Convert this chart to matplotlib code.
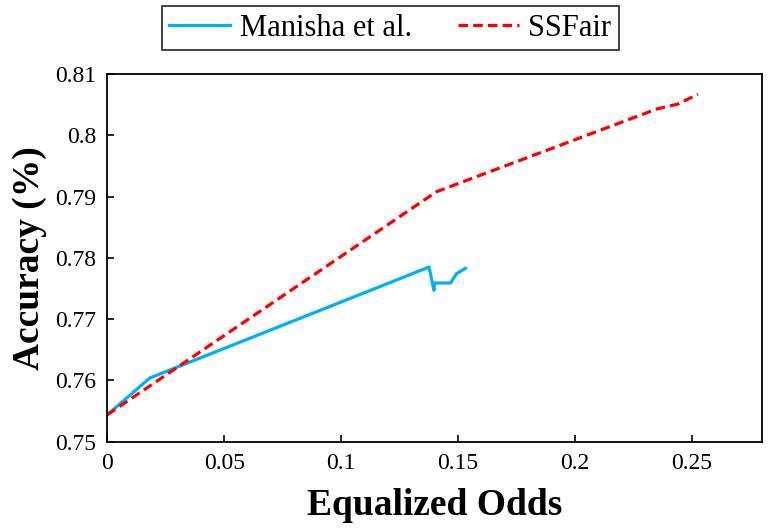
import matplotlib
matplotlib.use('Agg')
from matplotlib import pyplot as plt

# values
manisha_x = [0.0, 0.0182, 0.1376, 0.1397, 0.1399, 0.1468, 0.1493, 0.1532]
manisha_y = [0.7544, 0.7604, 0.7785, 0.7747, 0.7759, 0.7759, 0.7774, 0.7783]
ssfair_x = [0.0, 0.1408, 0.235, 0.244, 0.2526]
ssfair_y = [0.7544, 0.7908, 0.8043, 0.8051, 0.8067]

x_ticks = [0, 0.05, 0.1, 0.15, 0.2, 0.25]
x_labels = ['0', '0.05', '0.1', '0.15', '0.2', '0.25']
y_ticks = [0.75, 0.76, 0.77, 0.78, 0.79, 0.8, 0.81]
y_labels = ['0.75', '0.76', '0.77', '0.78', '0.79', '0.8', '0.81']

plt.rcParams['font.family'] = ['Liberation Serif', 'DejaVu Serif']

fig = plt.figure(figsize=(7.68, 5.29), dpi=100)
ax = fig.add_axes([0.1397, 0.165, 0.8525, 0.695])

ax.plot(manisha_x, manisha_y, color='#00B0F0', lw=2.3, label='Manisha et al.')
ax.plot(ssfair_x, ssfair_y, color='#FF0000', lw=2.3, ls=(0, (3.0, 1.6)), label='SSFair')

ax.set_xlim(0, 0.28)
ax.set_ylim(0.75, 0.81)
ax.set_xticks(x_ticks)
ax.set_xticklabels(x_labels)
ax.set_yticks(y_ticks)
ax.set_yticklabels(y_labels)
ax.tick_params(direction='in', labelsize=17, length=5, width=1.2, pad=8)
for s in ax.spines.values():
	s.set_linewidth(1.3)
	s.set_color('black')

ax.set_xlabel('Equalized Odds', fontsize=27, fontweight='bold', labelpad=10)
ax.set_ylabel('Accuracy (%)', fontsize=27, fontweight='bold', labelpad=6)

leg = ax.legend(loc='center', bbox_to_anchor=(0.432, 1.125), ncol=2, fontsize=22,
				frameon=True, fancybox=False, edgecolor='black', handlelength=2.0,
				handletextpad=0.3, columnspacing=1.5, borderpad=0.25, borderaxespad=0)
leg.get_frame().set_linewidth(1.3)

fig.savefig('out.png', dpi=100)
